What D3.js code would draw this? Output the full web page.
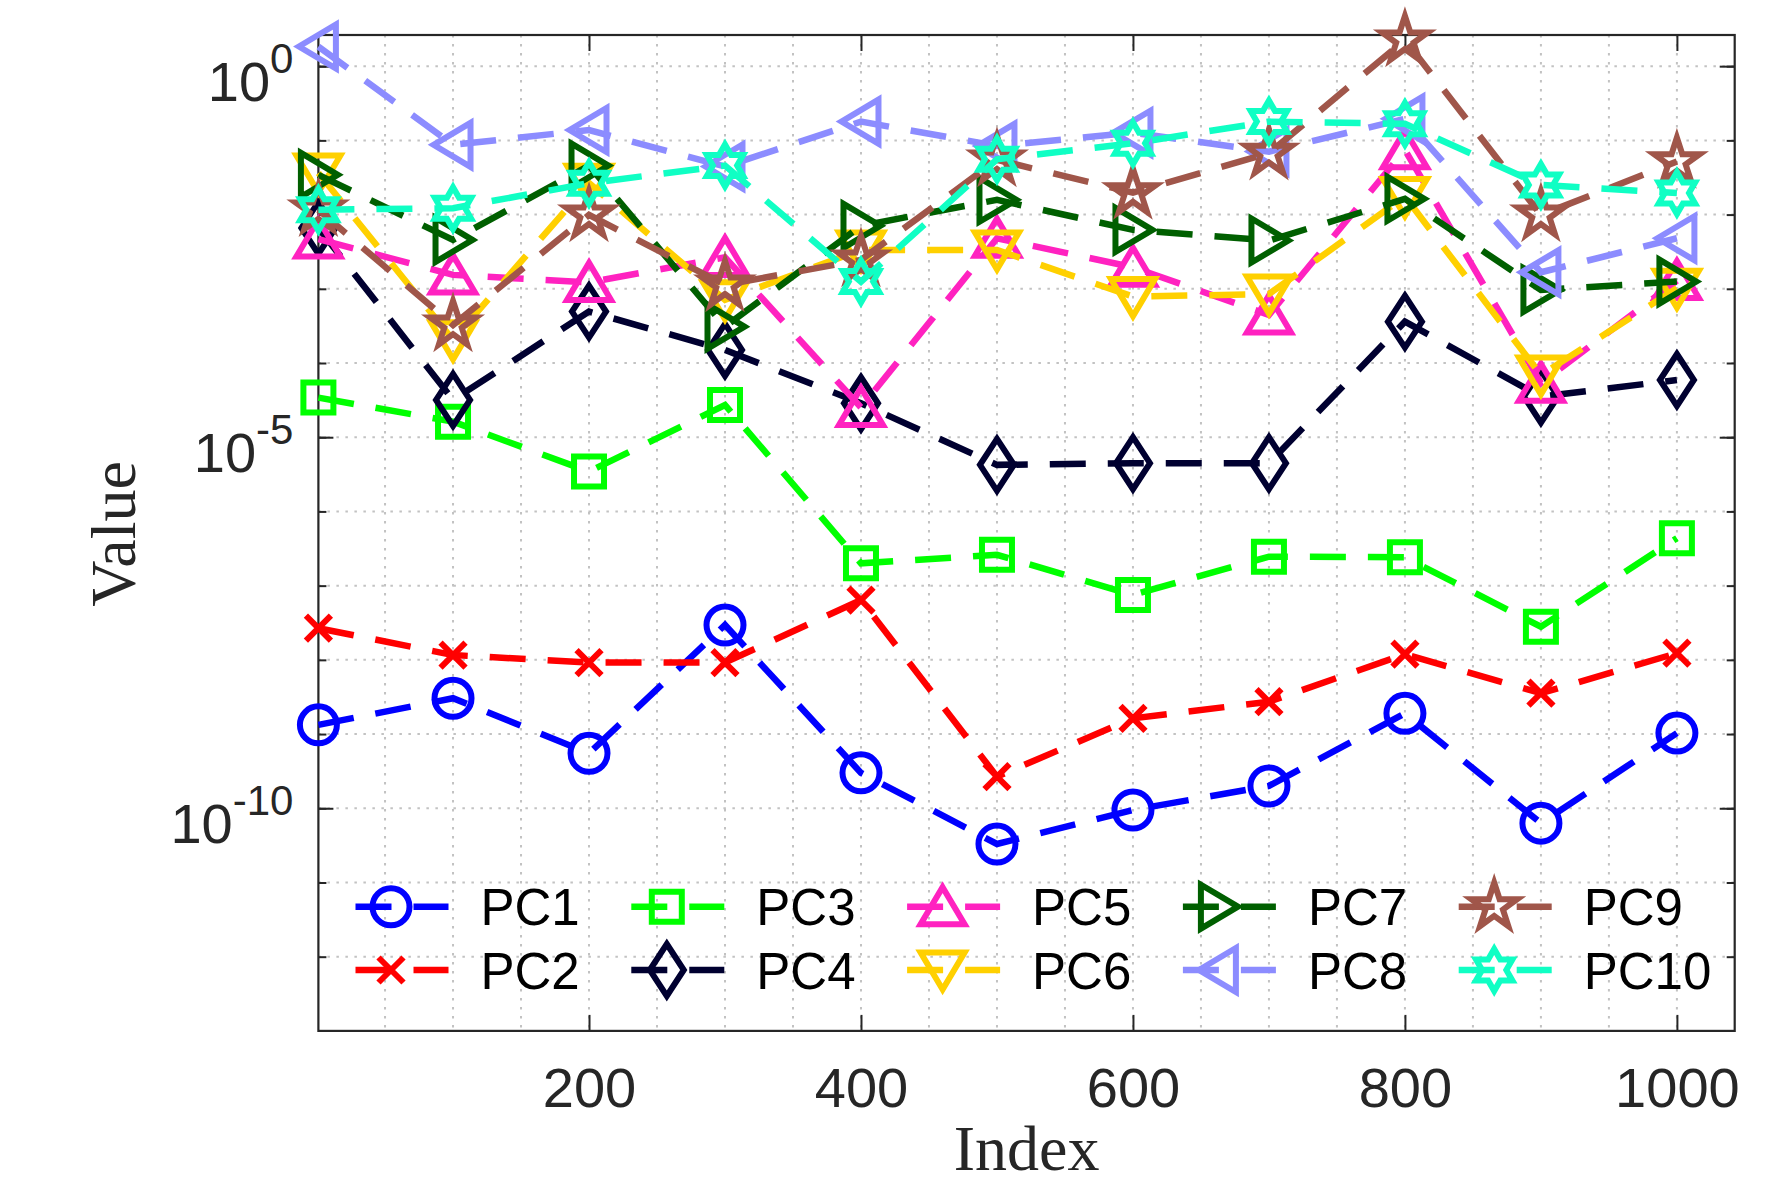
<!DOCTYPE html>
<html><head><meta charset="utf-8">
<script src="https://cdn.jsdelivr.net/npm/d3@7"></script>
<style>html,body{margin:0;padding:0;background:#fff;} svg{display:block;}</style>
</head><body>
<svg id="chart" width="1789" height="1183"></svg>
<script>
// ---------- data ----------
const xIndex = [1, 100, 200, 300, 400, 500, 600, 700, 800, 900, 1000];
const seriesNames = ["PC1","PC2","PC3","PC4","PC5","PC6","PC7","PC8","PC9","PC10"];
const seriesColors = ["#0000FF","#FF0000","#00FF00","#000030","#FF22C0","#FFD000","#005F00","#8C8CFF","#A0564A","#10FFC4"];
const seriesMarkers = ["circle","x","square","diamond","triUp","triDown","triRight","triLeft","pentagram","hexagram"];

const pc1  = [1.33e-9, 3.04e-9, 5.5e-10, 2.95e-8, 3.0e-10, 3.3e-11, 9.5e-11, 2.0e-10, 1.9e-9, 6.3e-11, 1.03e-9];
const pc2  = [2.67e-8, 1.16e-8, 9.2e-9, 9.2e-9, 6.4e-8, 2.67e-10, 1.63e-9, 2.73e-9, 1.19e-8, 3.55e-9, 1.23e-8];
const pc3  = [3.42e-5, 1.62e-5, 3.44e-6, 2.72e-5, 2.0e-7, 2.6e-7, 7.5e-8, 2.46e-7, 2.41e-7, 2.8e-8, 4.36e-7];
const pc4  = [6.6e-3, 3.18e-5, 4.93e-4, 1.5e-4, 2.87e-5, 4.24e-6, 4.47e-6, 4.47e-6, 3.61e-4, 3.52e-5, 5.9e-5];
const pc5  = [4.68e-3, 1.54e-3, 1.22e-3, 2.65e-3, 2.52e-5, 4.8e-3, 1.95e-3, 4.45e-4, 7.45e-2, 5.35e-5, 1.29e-3];
const pc6  = [3.63e-2, 2.05e-4, 2.65e-2, 7.1e-4, 3.34e-3, 3.34e-3, 7.85e-4, 8.5e-4, 1.75e-2, 6.9e-5, 1.02e-3];
const pc7  = [3.43e-2, 4.56e-3, 4.57e-2, 3.09e-4, 7.05e-3, 1.58e-2, 6.22e-3, 4.47e-3, 1.63e-2, 9.66e-4, 1.25e-3];
const pc8  = [1.84, 8.7e-2, 0.138, 4.44e-2, 0.179, 8.43e-2, 0.127, 7.06e-2, 0.195, 1.67e-3, 4.8e-3];
const pc9  = [1.16e-2, 3.26e-4, 9.9e-3, 1.13e-3, 2.45e-3, 5.46e-2, 1.98e-2, 6.71e-2, 2.26, 9.9e-3, 5.18e-2];
const pc10 = [1.16e-2, 1.22e-2, 2.65e-2, 4.57e-2, 1.25e-3, 5.57e-2, 9.16e-2, 0.179, 0.167, 2.51e-2, 1.95e-2];
const seriesValues = [pc1, pc2, pc3, pc4, pc5, pc6, pc7, pc8, pc9, pc10];

const xTickValues = [200, 400, 600, 800, 1000];
const yMajorTicks = [1, 1e-5, 1e-10];
const yMinorTicks = [1e-12,1e-11,1e-10,1e-9,1e-8,1e-7,1e-6,1e-5,1e-4,1e-3,1e-2,1e-1,1];
const xGridValues = d3.range(50, 1001, 50);

// ---------- layout ----------
const W = 1789, H = 1183;
const L = 318.4, R = 1734.7, T = 35, B = 1030.9;
const axisColor = "#262626";
const sansFont = "'Liberation Sans', Arial, Helvetica, sans-serif";
const serifFont = "'Liberation Serif', 'Times New Roman', serif";
const LW = 6.5, MW = 6;
const DASH = "36,22";

const svg = d3.select("#chart");
svg.append("rect").attr("width", W).attr("height", H).attr("fill", "#fff");

const x = d3.scaleLinear().domain([1, 1042.5]).range([L, R]);
const y = d3.scaleLog().domain([1e-13, Math.pow(10, 0.42)]).range([B, T]);

// ---------- grid ----------
const grid = svg.append("g").attr("stroke", "#c2c2c2").attr("stroke-width", 2).attr("stroke-dasharray", "2.5,6.5");
grid.selectAll("line.gv").data(xGridValues).join("line").attr("class", "gv")
  .attr("x1", d => x(d)).attr("x2", d => x(d)).attr("y1", T).attr("y2", B);
grid.selectAll("line.gh").data(yMinorTicks).join("line").attr("class", "gh")
  .attr("x1", L).attr("x2", R).attr("y1", d => y(d)).attr("y2", d => y(d));

// ---------- axes ----------
function styleAxis(g) {
  g.select(".domain").remove();
  g.attr("font-family", sansFont).attr("font-size", 56);
  g.selectAll(".tick line").attr("stroke", axisColor).attr("stroke-width", 2);
  g.selectAll(".tick text").attr("fill", axisColor);
}
svg.append("g").attr("transform", `translate(0,${B})`)
  .call(d3.axisBottom(x).tickValues(xTickValues).tickSize(-16).tickPadding(36).tickFormat(d3.format("d")))
  .call(styleAxis);
svg.append("g").attr("transform", `translate(0,${T})`)
  .call(d3.axisTop(x).tickValues(xTickValues).tickSize(-16).tickFormat(""))
  .call(styleAxis);
svg.append("g").attr("transform", `translate(${L},0)`)
  .call(d3.axisLeft(y).tickValues(yMinorTicks).tickSize(-8).tickFormat(""))
  .call(styleAxis);
svg.append("g").attr("transform", `translate(${R},0)`)
  .call(d3.axisRight(y).tickValues(yMinorTicks).tickSize(-8).tickFormat(""))
  .call(styleAxis);
svg.append("g").attr("transform", `translate(${R},0)`)
  .call(d3.axisRight(y).tickValues(yMajorTicks).tickSize(-15).tickFormat(""))
  .call(styleAxis);
svg.append("g").attr("transform", `translate(${L},0)`)
  .call(d3.axisLeft(y).tickValues(yMajorTicks).tickSize(-15).tickPadding(25))
  .call(styleAxis)
  .call(g => g.selectAll(".tick text").each(function(d) {
    const e = Math.round(Math.log10(d));
    const t = d3.select(this);
    t.text(null).attr("dy", null).attr("y", 34);
    t.append("tspan").text("10");
    t.append("tspan").attr("dy", -28).attr("font-size", 42).text(String(e));
  }));

svg.append("rect").attr("x", L).attr("y", T).attr("width", R - L).attr("height", B - T)
  .attr("fill", "none").attr("stroke", axisColor).attr("stroke-width", 2.2);

// axis titles
svg.append("text").attr("x", (L + R) / 2).attr("y", 1170).attr("text-anchor", "middle")
  .attr("font-family", serifFont).attr("font-size", 64).attr("fill", axisColor).text("Index");
svg.append("text").attr("transform", "translate(135,534) rotate(-90)").attr("text-anchor", "middle")
  .attr("font-family", serifFont).attr("font-size", 64).attr("fill", axisColor).text("Value");

// ---------- markers ----------
function star(n, Ro, Ri) {
  const p = d3.path();
  for (let i = 0; i < 2 * n; i++) {
    const r = i % 2 === 0 ? Ro : Ri;
    const a = -Math.PI / 2 + i * Math.PI / n;
    const px = r * Math.cos(a), py = r * Math.sin(a);
    if (i === 0) p.moveTo(px, py); else p.lineTo(px, py);
  }
  p.closePath();
  return p.toString();
}
function markerPath(type) {
  const p = d3.path();
  switch (type) {
    case "circle": p.moveTo(18.5, 0); p.arc(0, 0, 18.5, 0, 2 * Math.PI); p.closePath(); return p.toString();
    case "x": return "M-12.5,-12.5L12.5,12.5M-12.5,12.5L12.5,-12.5";
    case "square": return "M-15,-15H15V15H-15Z";
    case "diamond": return "M0,-26L17,0L0,26L-17,0Z";
    case "triUp": return "M0,-19.5L22,17.5L-22,17.5Z";
    case "triDown": return "M0,19.5L22,-17.5L-22,-17.5Z";
    case "triRight": return "M19.5,0L-17.5,-22L-17.5,22Z";
    case "triLeft": return "M-19.5,0L17.5,-22L17.5,22Z";
    case "pentagram": return star(5, 24, 24 * 0.382);
    case "hexagram": return star(6, 21, 21 / Math.sqrt(3));
  }
}

// ---------- series ----------
const line = d3.line().x((d, i) => x(xIndex[i])).y(d => y(d));
seriesValues.forEach((vals, k) => {
  const g = svg.append("g").attr("class", "series");
  g.append("path").attr("d", line(vals)).attr("fill", "none")
    .attr("stroke", seriesColors[k]).attr("stroke-width", LW).attr("stroke-dasharray", DASH);
  g.selectAll("path.m").data(vals).join("path").attr("class", "m")
    .attr("transform", (d, i) => `translate(${x(xIndex[i])},${y(d)})`)
    .attr("d", markerPath(seriesMarkers[k]))
    .attr("fill", "none").attr("stroke", seriesColors[k]).attr("stroke-width", MW)
    .attr("stroke-linejoin", "miter").attr("stroke-miterlimit", 10);
});

// ---------- legend ----------
const legX0 = 355.5, legColStep = 275.8, legRowY = [906.7, 970];
const leg = svg.append("g").attr("class", "legend");
seriesNames.forEach((name, i) => {
  const cx = legX0 + Math.floor(i / 2) * legColStep;
  const cy = legRowY[i % 2];
  const it = leg.append("g");
  it.append("line").attr("x1", cx).attr("x2", cx + 93).attr("y1", cy).attr("y2", cy)
    .attr("stroke", seriesColors[i]).attr("stroke-width", LW).attr("stroke-dasharray", DASH);
  it.append("path").attr("transform", `translate(${cx + 35.5},${cy})`).attr("d", markerPath(seriesMarkers[i]))
    .attr("fill", "none").attr("stroke", seriesColors[i]).attr("stroke-width", MW).attr("stroke-miterlimit", 10);
  it.append("text").attr("x", cx + 125).attr("y", cy + 18.5).attr("font-family", sansFont)
    .attr("font-size", 51).attr("fill", "#000").text(name);
});
</script>
</body></html>
